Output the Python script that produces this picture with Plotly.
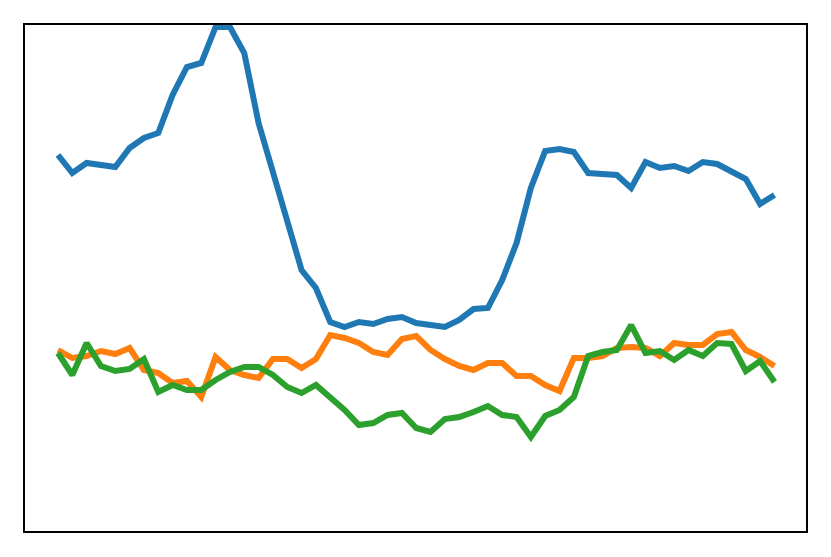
import plotly.graph_objects as go


# sample index, 51 points per series
steps = list(range(51))

blue = [376, 358, 368, 366, 364, 383, 393, 398, 436, 464,
        468, 504, 504, 478, 408, 359, 309, 261, 243, 209,
        204, 209, 207, 212, 214, 208, 206, 204, 211, 222,
        223, 251, 288, 343, 380, 382, 379, 358, 357, 356,
        343, 369, 363, 365, 360, 369, 367, 360, 352, 327,
        336]

orange = [181, 173, 175, 180, 177, 183, 161, 158, 148, 150,
          134, 174, 161, 156, 153, 172, 172, 163, 172, 196,
          193, 188, 179, 176, 192, 195, 181, 172, 165, 161,
          168, 168, 155, 155, 146, 140, 173, 173, 175, 183,
          184, 183, 175, 188, 186, 186, 197, 199, 181, 174,
          165]

green = [178, 156, 188, 165, 160, 162, 172, 139, 146, 141,
         141, 151, 159, 164, 164, 156, 144, 138, 146, 134,
         121, 106, 108, 116, 118, 103, 99, 112, 114, 119,
         125, 116, 114, 94, 115, 121, 134, 175, 179, 181,
         206, 178, 180, 171, 181, 175, 188, 187, 160, 170,
         149]

COLORS = ['#1f77b4', '#ff7f0e', '#2ca02c']


def createFigure():
    '''
    Builds the three-line figure with a plain boxed frame and no ticks

    returns go.Figure
    '''
    fig = go.Figure()

    for series, color in zip([blue, orange, green], COLORS):
        fig.add_trace(go.Scatter(x=steps, y=series, mode='lines',
                                 line=dict(color=color, width=6),
                                 showlegend=False, hoverinfo='skip'))

    axis = dict(showgrid=False, zeroline=False, showticklabels=False,
                ticks='', showline=True, linecolor='black', linewidth=1.5,
                mirror=True)

    # the page body keeps its default 8px margin, so size the figure to fit inside it
    fig.update_layout(
        width=815,
        height=541,
        margin=dict(l=17, r=17, t=17, b=18),
        paper_bgcolor='white',
        plot_bgcolor='white',
        xaxis=dict(range=[-2.3, 52.2], **axis),
        yaxis=dict(range=[0, 506], **axis),
    )

    return fig


fig = createFigure()
fig.write_html("out.html")
